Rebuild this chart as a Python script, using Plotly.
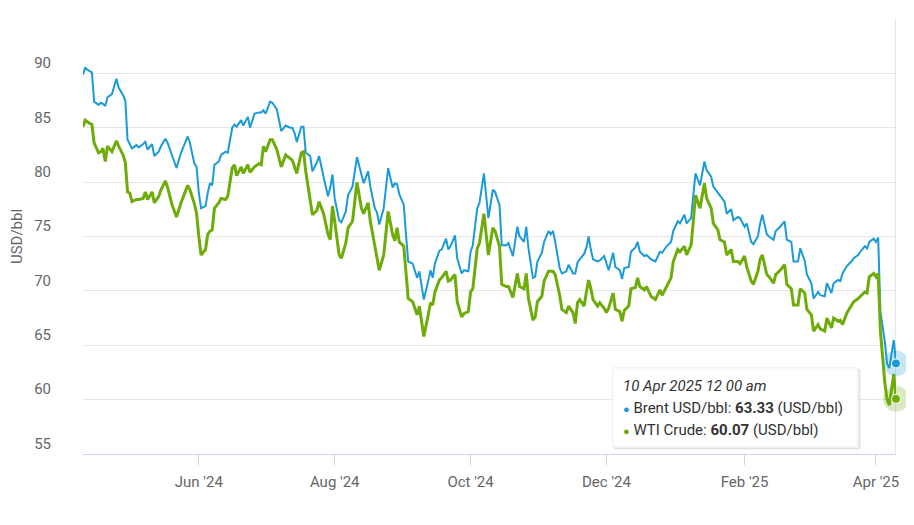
import pandas as pd
import plotly.graph_objects as go

start_date = "2024-04-10"
# day offsets from start_date
days = [0, 1, 3, 4, 5, 7, 8, 9, 10, 11, 13, 14, 15, 16, 18, 19, 20, 21, 22, 24,
        25, 27, 28, 29, 31, 32, 34, 35, 37, 38, 40, 42, 44, 47, 48, 50, 51, 52, 53, 55,
        56, 57, 58, 59, 61, 62, 64, 65, 67, 68, 69, 71, 72, 74, 75, 77, 79, 80, 81, 82,
        84, 85, 87, 88, 89, 91, 93, 94, 95, 96, 98, 99, 100, 102, 103, 105, 106, 108, 110, 111,
        112, 113, 115, 116, 118, 119, 121, 123, 125, 126, 128, 129, 131, 132, 133, 135, 137, 139, 140, 141,
        142, 144, 145, 146, 148, 150, 151, 153, 155, 156, 157, 158, 160, 161, 163, 164, 165, 167, 168, 170,
        171, 173, 174, 175, 177, 178, 180, 181, 182, 184, 185, 187, 188, 190, 191, 193, 195, 196, 198, 199,
        200, 202, 203, 204, 206, 207, 209, 210, 211, 212, 214, 215, 217, 218, 220, 221, 222, 223, 225, 226,
        227, 228, 229, 231, 232, 234, 235, 236, 238, 239, 241, 242, 243, 245, 246, 248, 249, 250, 252, 253,
        255, 257, 259, 260, 262, 264, 265, 267, 268, 270, 271, 273, 274, 275, 277, 279, 280, 282, 283, 285,
        286, 288, 289, 291, 292, 294, 295, 297, 298, 300, 301, 303, 304, 305, 307, 308, 310, 311, 313, 314,
        315, 316, 318, 319, 321, 322, 324, 325, 327, 328, 330, 331, 333, 334, 336, 337, 339, 340, 341, 343,
        345, 346, 348, 349, 351, 352, 353, 355, 356, 357, 358, 360, 361, 362, 364, 365]

brent = [89.9, 90.5, 90.2, 90.1, 87.4, 87.1, 87.3, 87.2, 87.0, 87.8, 88.1, 88.8, 89.5, 88.7, 88.0, 87.5, 83.9, 83.5, 83.1, 83.4,
         83.2, 83.5, 83.7, 83.0, 83.5, 82.4, 82.8, 83.3, 84.0, 83.6, 82.5, 81.3, 82.7, 84.2, 83.6, 81.7, 81.4, 79.0, 77.6, 77.8,
         79.0, 79.9, 79.7, 81.6, 81.9, 82.5, 82.8, 82.7, 85.0, 85.3, 85.1, 85.7, 85.2, 86.0, 85.0, 86.3, 86.4, 86.4, 86.6, 86.3,
         87.4, 87.3, 86.7, 85.7, 84.7, 85.2, 85.0, 85.0, 84.5, 83.7, 85.1, 85.1, 82.7, 82.4, 81.0, 81.8, 82.4, 80.5, 78.7, 79.5,
         80.7, 78.5, 76.5, 76.3, 77.3, 78.8, 79.6, 82.3, 80.7, 79.9, 81.0, 79.6, 77.6, 77.2, 76.1, 77.6, 81.3, 79.5, 79.9, 79.8,
         78.9, 77.9, 75.2, 72.7, 72.5, 71.2, 71.8, 69.2, 70.9, 71.9, 71.2, 72.5, 73.7, 73.8, 74.8, 73.8, 74.1, 75.1, 73.0, 71.6,
         71.9, 71.8, 73.6, 74.2, 77.6, 78.1, 80.8, 78.5, 76.7, 79.3, 79.1, 77.9, 74.2, 74.2, 74.4, 73.2, 75.9, 75.0, 74.5, 75.9,
         73.9, 71.2, 71.3, 72.7, 73.5, 74.5, 75.5, 75.2, 75.5, 74.5, 72.1, 71.6, 71.8, 72.4, 71.6, 71.6, 72.6, 72.9, 73.4, 74.0,
         75.0, 73.8, 72.9, 72.7, 72.8, 73.2, 72.5, 71.9, 73.5, 72.2, 71.9, 71.1, 72.1, 72.2, 73.6, 74.0, 74.5, 73.6, 73.2, 73.3,
         72.9, 72.7, 73.6, 73.5, 74.1, 74.5, 75.5, 76.4, 76.2, 77.0, 76.2, 76.7, 78.8, 80.8, 79.7, 81.9, 81.1, 80.5, 79.6, 79.0,
         78.7, 78.2, 77.1, 77.5, 76.5, 76.8, 76.7, 75.9, 76.2, 74.5, 74.3, 75.0, 76.2, 77.0, 75.2, 75.0, 74.7, 75.5, 75.9, 76.2,
         76.4, 74.7, 74.5, 72.7, 72.7, 73.9, 72.8, 71.5, 70.7, 69.3, 69.9, 69.6, 69.5, 70.7, 69.8, 70.7, 71.0, 70.9, 71.6, 72.3,
         72.7, 73.0, 73.3, 73.6, 74.1, 73.9, 74.5, 74.8, 74.5, 74.9, 68.1, 65.3, 63.3, 62.9, 65.48, 63.33]

wti = [85.1, 85.7, 85.4, 85.3, 83.6, 82.7, 82.8, 83.1, 81.9, 83.3, 82.8, 83.4, 83.8, 83.3, 82.5, 81.8, 79.1, 79.0, 78.2, 78.4,
       78.4, 78.5, 79.1, 78.4, 79.1, 78.1, 78.7, 79.3, 80.1, 79.5, 77.9, 76.8, 78.1, 79.7, 79.3, 78.0, 77.1, 75.0, 73.3, 73.8,
       75.2, 75.5, 75.6, 77.6, 78.1, 78.5, 78.4, 78.7, 81.3, 81.6, 80.6, 81.4, 80.8, 81.6, 80.9, 81.4, 81.7, 81.6, 83.3, 82.8,
       83.9, 83.9, 83.0, 82.2, 81.4, 82.5, 82.2, 82.0, 81.4, 80.8, 82.7, 82.8, 81.0, 78.3, 77.0, 77.4, 78.2, 77.1, 75.2, 74.7,
       77.8, 76.4, 73.3, 73.0, 74.4, 75.8, 76.4, 80.0, 77.6, 77.1, 78.1, 76.4, 74.1, 73.2, 71.9, 73.3, 77.3, 75.2, 74.6, 75.8,
       74.5, 74.1, 71.8, 69.3, 69.0, 67.8, 68.6, 65.8, 67.8, 68.9, 68.7, 69.9, 71.0, 71.2, 71.8, 70.9, 71.0, 71.5, 69.0, 67.6,
       67.9, 68.1, 69.9, 70.2, 73.9, 74.4, 77.1, 75.2, 73.3, 75.8, 75.5, 74.1, 70.6, 70.4, 70.4, 69.4, 71.6, 70.4, 70.2, 71.6,
       69.3, 67.3, 67.6, 69.0, 69.5, 70.9, 71.8, 71.8, 71.8, 71.5, 69.6, 68.3, 68.0, 68.6, 68.0, 67.0, 68.9, 69.2, 68.6, 69.9,
       71.0, 70.2, 69.2, 68.6, 68.9, 68.4, 68.0, 68.4, 69.8, 68.3, 68.1, 67.2, 68.2, 68.6, 70.2, 70.3, 71.2, 70.4, 70.1, 70.4,
       69.5, 69.2, 70.1, 69.6, 70.4, 71.2, 72.7, 73.8, 73.6, 74.1, 73.3, 74.2, 76.4, 78.8, 77.6, 79.9, 78.5, 77.6, 76.2, 75.6,
       74.7, 74.5, 73.3, 73.8, 72.7, 72.7, 72.5, 73.2, 72.2, 70.9, 70.6, 71.8, 72.9, 73.3, 71.5, 71.3, 70.7, 71.5, 71.9, 72.2,
       72.4, 70.6, 70.2, 68.7, 68.7, 70.2, 69.8, 68.3, 67.8, 66.3, 66.9, 66.5, 66.3, 67.5, 66.6, 67.5, 67.2, 67.3, 66.9, 68.0,
       68.7, 69.0, 69.3, 69.5, 69.9, 69.8, 71.3, 71.6, 71.3, 71.6, 66.3, 61.5, 60.0, 59.5, 62.35, 60.07]

series_names = ["Brent USD/bbl", "WTI Crude"]
unit = "USD/bbl"
y_ticks = [55, 60, 65, 70, 75, 80, 85, 90, 95]
y_ticktext = ["55", "60", "65", "70", "75", "80", "85", "90", ""]
hover_label = "10 Apr 2025 12 00 am"

blue = "#1a9bd7"
green = "#6eac0a"

dates = pd.Timestamp(start_date) + pd.to_timedelta(days, unit="D")

fig = go.Figure()
fig.add_trace(go.Scatter(x=dates, y=brent, mode="lines", name=series_names[0],
                         line=dict(color=blue, width=2), hoverinfo="skip"))
fig.add_trace(go.Scatter(x=dates, y=wti, mode="lines", name=series_names[1],
                         line=dict(color=green, width=3), hoverinfo="skip"))

# hover halos + markers on last point
last = dates[-1]
fig.add_trace(go.Scatter(x=[last, last], y=[brent[-1], wti[-1]], mode="markers",
                         marker=dict(size=26, color=[blue, green], opacity=0.25),
                         hoverinfo="skip", showlegend=False, cliponaxis=False))
fig.add_trace(go.Scatter(x=[last, last], y=[brent[-1], wti[-1]], mode="markers",
                         marker=dict(size=9, color=[blue, green], line=dict(color="white", width=1)),
                         hoverinfo="skip", showlegend=False, cliponaxis=False))

# crosshair
fig.add_shape(type="line", x0=last, x1=last, xref="x", y0=0, y1=1, yref="paper",
              line=dict(color="#cccccc", width=1), layer="below")

# tooltip box (paper coords of plot area)
fig.add_shape(type="rect", xref="paper", yref="paper", x0=0.6535, x1=0.9555, y0=0.012, y1=0.194,
              line=dict(color="#d9d9d9", width=1), fillcolor="rgba(0,0,0,0.06)", layer="above")
fig.add_shape(type="rect", xref="paper", yref="paper", x0=0.6515, x1=0.953, y0=0.016, y1=0.198,
              line=dict(color="#eeeeee", width=1), fillcolor="white", layer="above")

tip_lines = [
    f"<i>{hover_label}</i>",
    f"<span style='color:{blue};font-size:11px'>●</span> {series_names[0]}: <b>{brent[-1]:.2f}</b> ({unit})",
    f"<span style='color:{green};font-size:11px'>●</span> {series_names[1]}: <b>{wti[-1]:.2f}</b> ({unit})",
]
for i, t in enumerate(tip_lines):
    fig.add_annotation(text=t, xref="paper", yref="paper", x=0.6615, y=0.156 - i * 0.0505,
                       xanchor="left", yanchor="middle", align="left", showarrow=False,
                       font=dict(family="Roboto", size=15, color="#333333"))

fig.update_layout(
    width=914, height=525,
    margin=dict(l=75, r=26, t=11, b=79),
    paper_bgcolor="white", plot_bgcolor="white",
    showlegend=False,
    font=dict(family="Roboto", color="#666666", size=15),
)
fig.update_xaxes(
    type="date", range=[dates[0], dates[-1]], automargin=False,
    tickformat="%b '%y", dtick="M2", tick0="2024-06-01",
    showgrid=False, showline=True, linecolor="#ccd6eb", linewidth=1,
    ticks="outside", ticklen=10, tickcolor="#ccd6eb", tickwidth=1,
    tickfont=dict(size=15, color="#666666"), ticklabelstandoff=4,
    zeroline=False,
)
fig.update_yaxes(
    range=[55, 95], tickvals=y_ticks, ticktext=y_ticktext, automargin=False,
    showgrid=True, gridcolor="#e6e6e6", gridwidth=1, zeroline=False,
    ticklabelposition="outside top", ticklabelstandoff=31,
    tickfont=dict(size=15, color="#666666"),
    title=dict(text=unit, font=dict(size=15, color="#666666"), standoff=11),
)

fig.write_html("out.html")
